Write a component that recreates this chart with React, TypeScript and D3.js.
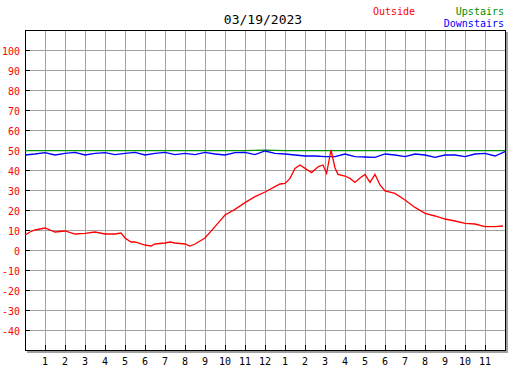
import React, { useRef, useEffect } from "react";
import * as d3 from "d3";

const title = "03/19/2023";

// hour of day (0 = midnight) -> temperature
const outsideHours = [0, 0.25, 0.5, 1, 1.5, 2, 2.5, 3, 3.5, 4, 4.5, 4.8, 5, 5.3, 5.5, 6, 6.3, 6.5, 7, 7.25, 7.5, 8, 8.25, 8.5, 9, 9.5, 10, 10.5, 11, 11.5, 12, 12.5, 12.75, 13, 13.25, 13.5, 13.75, 14.08, 14.33, 14.67, 14.9, 15.08, 15.3, 15.5, 15.65, 16, 16.25, 16.5, 16.75, 17, 17.25, 17.5, 17.75, 18, 18.5, 19, 19.5, 20, 20.5, 21, 21.5, 22, 22.5, 23, 23.5, 23.9];
const outsideTemps = [7.5, 9, 10, 11, 9, 9.5, 8, 8.3, 9, 8, 8, 8.5, 6, 4, 4, 2.5, 2, 3, 3.5, 4, 3.5, 3, 2, 3, 6, 11.7, 17.5, 20.3, 23.7, 26.7, 29, 31.7, 33, 33.3, 35.8, 40.8, 42.5, 40.3, 38.7, 41.7, 42.5, 38.3, 50, 41, 37.8, 37, 35.8, 33.8, 36, 37.8, 33.8, 37.8, 32.5, 29.5, 28.3, 25, 21.3, 18.3, 17, 15.5, 14.5, 13.3, 13, 11.7, 11.7, 12];

const downHours = d3.range(0, 24.5, 0.5);
const downTemps = [47.5, 48, 48.7, 47.5, 48.3, 48.8, 47.5, 48.3, 48.7, 47.7, 48.3, 48.8, 47.5, 48.3, 48.8, 47.7, 48.3, 47.7, 48.8, 48, 47.5, 48.7, 48.8, 47.7, 49.5, 48.3, 48, 47.5, 47, 47, 46.7, 46.7, 48, 46.7, 46.5, 46.3, 48, 47.5, 46.7, 48, 47.5, 46.3, 47.5, 47.5, 46.7, 48, 48.3, 47, 49.2];

const upHours = d3.range(0, 25, 1);
const upTemps = [49.7, 49.7, 49.7, 49.7, 49.7, 49.7, 49.7, 49.7, 49.7, 49.7, 49.7, 49.7, 49.9, 49.7, 49.7, 49.7, 49.7, 49.7, 49.7, 49.7, 49.7, 49.7, 49.7, 49.7, 49.7];

const yTicks = [100, 90, 80, 70, 60, 50, 40, 30, 20, 10, 0, -10, -20, -30, -40];
const xTicks = d3.range(1, 24);
const xLabels = ["1", "2", "3", "4", "5", "6", "7", "8", "9", "10", "11", "12", "1", "2", "3", "4", "5", "6", "7", "8", "9", "10", "11"];

const font = "'DejaVu Sans Mono', monospace";

export default function App() {
  const chartRef = useRef<SVGSVGElement>(null);

  useEffect(() => {
    if (chartRef.current === null) return;
    const svg = d3.select(chartRef.current);
    svg.selectAll("*").remove();

    const left = 25, right = 505, top = 30, bottom = 350;
    const x = d3.scaleLinear().domain([0, 24]).range([left, right]);
    const y = d3.scaleLinear().domain([-50, 110]).range([bottom, top]);

    svg.append("rect").attr("width", 527).attr("height", 370).attr("fill", "#fff");

    // shadow
    svg.append("rect").attr("x", right + 1).attr("y", top + 2).attr("width", 2).attr("height", bottom - top).attr("fill", "#a0a0a0");
    svg.append("rect").attr("x", left + 2).attr("y", bottom + 1).attr("width", right - left + 1).attr("height", 2).attr("fill", "#a0a0a0");

    // grid
    const g = svg.append("g").attr("shape-rendering", "crispEdges");
    g.selectAll("line.vg").data(xTicks).enter().append("line")
      .attr("x1", (d) => x(d) + 0.5).attr("x2", (d) => x(d) + 0.5)
      .attr("y1", top).attr("y2", bottom)
      .attr("stroke", "#a0a0a0");
    g.selectAll("line.hg").data(yTicks).enter().append("line")
      .attr("y1", (d) => y(d) + 0.5).attr("y2", (d) => y(d) + 0.5)
      .attr("x1", left).attr("x2", right)
      .attr("stroke", "#a0a0a0");

    // frame
    g.append("rect").attr("x", left + 0.5).attr("y", top + 0.5)
      .attr("width", right - left).attr("height", bottom - top)
      .attr("fill", "none").attr("stroke", "#000");

    // tick marks
    g.selectAll("line.yt").data(yTicks).enter().append("line")
      .attr("x1", left).attr("x2", left + 5)
      .attr("y1", (d) => y(d) + 0.5).attr("y2", (d) => y(d) + 0.5)
      .attr("stroke", "#000");
    g.selectAll("line.xt").data(xTicks).enter().append("line")
      .attr("x1", (d) => x(d) + 0.5).attr("x2", (d) => x(d) + 0.5)
      .attr("y1", bottom).attr("y2", bottom - 5)
      .attr("stroke", "#000");

    // labels
    svg.selectAll("text.yl").data(yTicks).enter().append("text")
      .attr("x", 20).attr("y", (d) => y(d) + 4.5)
      .attr("text-anchor", "end").attr("fill", "#ff0000")
      .style("font-family", font).style("font-size", "10px")
      .text((d) => String(d));
    svg.selectAll("text.xl").data(xTicks).enter().append("text")
      .attr("x", (d) => x(d)).attr("y", 365)
      .attr("text-anchor", "middle").attr("fill", "#000")
      .style("font-family", font).style("font-size", "10px")
      .text((d, i) => xLabels[i]);

    // series
    const line = d3.line<[number, number]>().x((d) => x(d[0])).y((d) => y(d[1]));
    const series = [
      { hours: upHours, temps: upTemps, color: "#009000" },
      { hours: downHours, temps: downTemps, color: "#0000ff" },
      { hours: outsideHours, temps: outsideTemps, color: "#ff0000" },
    ];
    series.forEach((s) => {
      svg.append("path")
        .datum(s.hours.map((h, i) => [h, s.temps[i]] as [number, number]))
        .attr("d", line)
        .attr("fill", "none")
        .attr("stroke", s.color)
        .attr("stroke-width", 1.3);
    });

    // title + legend
    svg.append("text").attr("x", 263).attr("y", 24).attr("text-anchor", "middle")
      .style("font-family", font).style("font-size", "13px").text(title);
    svg.append("text").attr("x", 373).attr("y", 15).attr("fill", "#ff0000")
      .style("font-family", font).style("font-size", "10px").text("Outside");
    svg.append("text").attr("x", 504).attr("y", 15).attr("fill", "#009000").attr("text-anchor", "end")
      .style("font-family", font).style("font-size", "10px").text("Upstairs");
    svg.append("text").attr("x", 504).attr("y", 27).attr("fill", "#0000ff").attr("text-anchor", "end")
      .style("font-family", font).style("font-size", "10px").text("Downstairs");
  }, []);

  return (
    <svg
      ref={chartRef}
      width={527}
      height={370}
      style={{ position: "absolute", left: 0, top: 0 }}
    ></svg>
  );
}
